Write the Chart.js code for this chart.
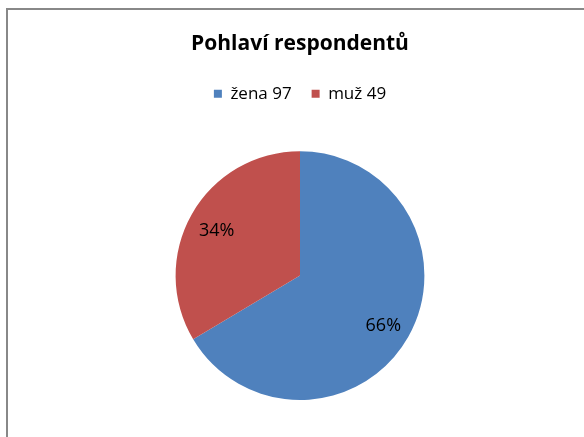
<!DOCTYPE html>
<html>
<head>
<meta charset="utf-8">
<script src="https://cdn.jsdelivr.net/npm/chart.js@4.4.0/dist/chart.umd.min.js"></script>
<style>
  html, body { margin: 0; padding: 0; background: #fff; }
  body { width: 584px; height: 437px; overflow: hidden; position: relative; }
  #frame { position: absolute; left: 6px; top: 8px; width: 700px; height: 600px;
           border-left: 2px solid #888; border-top: 2px solid #888; }
  #wrap { position: absolute; left: 0; top: 0; width: 584px; height: 437px; }
</style>
</head>
<body>
<div id="frame"></div>
<div id="wrap"><canvas id="chart-area"></canvas></div>
<script>
const title = 'Pohlaví respondentů';
const labels = ['žena 97', 'muž 49'];
const values = [97, 49];
const colors = ['#4f81bd', '#c0504d'];

// percentages written inside the slices
const pctLabels = {
  id: 'pctLabels',
  afterDatasetsDraw(chart) {
    const ctx = chart.ctx;
    const meta = chart.getDatasetMeta(0);
    const total = values.reduce((a, b) => a + b, 0);
    ctx.save();
    ctx.font = '18px "Open Sans", sans-serif';
    ctx.fillStyle = '#000';
    ctx.textAlign = 'center';
    ctx.textBaseline = 'middle';
    meta.data.forEach((arc, i) => {
      const p = arc.getProps(['x', 'y', 'startAngle', 'endAngle', 'outerRadius'], true);
      const mid = (p.startAngle + p.endAngle) / 2;
      const r = p.outerRadius * 0.77;
      const text = Math.round(values[i] / total * 100) + '%';
      ctx.fillText(text, p.x + Math.cos(mid) * r, p.y + Math.sin(mid) * r + 3);
    });
    ctx.restore();
  }
};

// extra gap between legend and pie
const legendGap = {
  id: 'legendGap',
  beforeInit(chart) {
    const fit = chart.legend.fit;
    chart.legend.fit = function () {
      fit.bind(chart.legend)();
      this.height += 39;
    };
  }
};

const ctx = document.getElementById('chart-area').getContext('2d');
window.myPie = new Chart(ctx, {
  type: 'pie',
  data: {
    labels: labels,
    datasets: [{
      data: values,
      backgroundColor: colors,
      borderWidth: 0
    }]
  },
  options: {
    responsive: true,
    maintainAspectRatio: false,
    animation: false,
    layout: { padding: { top: 31, bottom: 37, left: 16 } },
    plugins: {
      title: {
        display: true,
        text: title,
        color: '#000',
        font: { family: '"Open Sans", sans-serif', size: 21, weight: 'bold' },
        padding: { top: 0, bottom: 9 }
      },
      legend: {
        position: 'top',
        labels: {
          color: '#000',
          font: { family: '"Open Sans", sans-serif', size: 17 },
          boxWidth: 8,
          boxHeight: 8,
          padding: 20
        }
      },
      tooltip: { enabled: false }
    }
  },
  plugins: [legendGap, pctLabels]
});
</script>
</body>
</html>
